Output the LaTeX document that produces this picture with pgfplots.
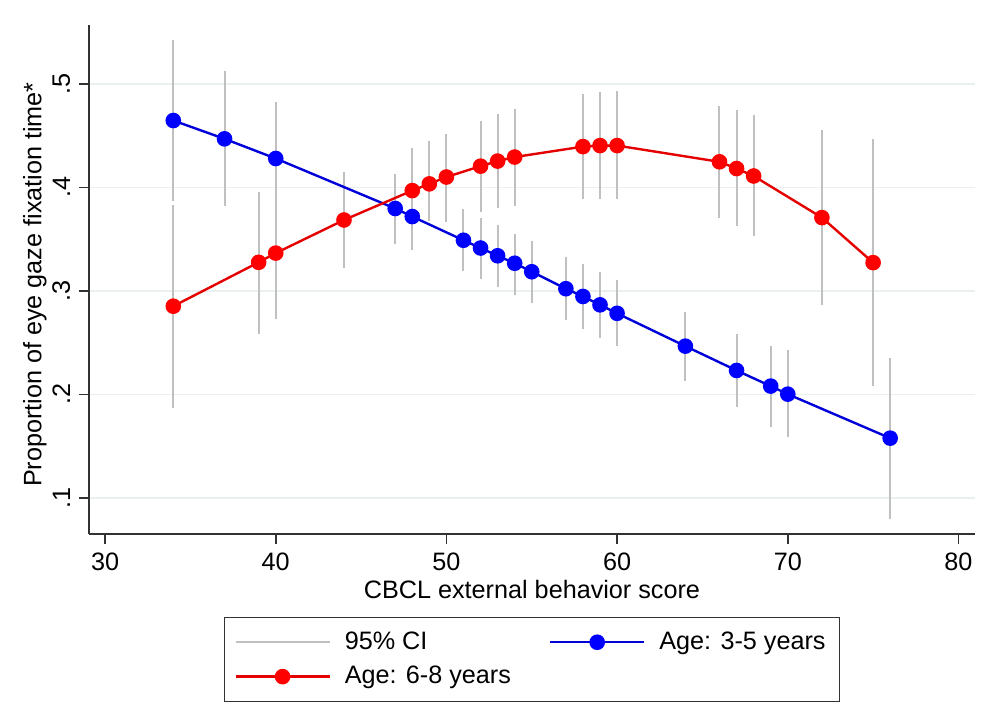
\documentclass[border=0pt]{standalone}
\usepackage{fontspec}
\setmainfont{Liberation Sans}
\usepackage{pgfplots}
\usepackage{pgfplotstable}
\pgfplotsset{compat=1.18}
\usetikzlibrary{calc}
\definecolor{cigray}{RGB}{192,192,192}
\definecolor{gridc}{RGB}{234,240,240}
\definecolor{axc}{RGB}{50,50,50}
\definecolor{sblue}{RGB}{0,0,255}
\definecolor{sred}{RGB}{255,0,0}

\pgfplotstableread{
x m lo hi
34 0.4647 0.3873 0.5425
37 0.4470 0.3817 0.5124
40 0.4280 0.3730 0.4826
47 0.3797 0.3457 0.4134
48 0.3719 0.3398 0.4040
51 0.3490 0.3196 0.3790
52 0.3415 0.3120 0.3709
53 0.3340 0.3040 0.3637
54 0.3268 0.2957 0.3555
55 0.3186 0.2882 0.3480
57 0.3022 0.2718 0.3333
58 0.2947 0.2630 0.3260
59 0.2866 0.2549 0.3186
60 0.2784 0.2467 0.3104
64 0.2467 0.2130 0.2794
67 0.2232 0.1879 0.2581
69 0.2081 0.1690 0.2467
70 0.2003 0.1585 0.2425
76 0.1578 0.0800 0.2353
}\younger

\pgfplotstableread{
x m lo hi
34 0.2853 0.1873 0.3830
39 0.3277 0.2588 0.3954
40 0.3366 0.2730 0.4000
44 0.3686 0.3219 0.4150
48 0.3970 0.3560 0.4379
49 0.4035 0.3676 0.4451
50 0.4101 0.3670 0.4516
52 0.4206 0.3765 0.4647
53 0.4255 0.3797 0.4706
54 0.4294 0.3824 0.4755
58 0.4395 0.3888 0.4902
59 0.4405 0.3888 0.4925
60 0.4405 0.3888 0.4928
66 0.4248 0.3709 0.4787
67 0.4183 0.3627 0.4745
68 0.4111 0.3529 0.4699
72 0.3709 0.2869 0.4552
75 0.3274 0.2085 0.4470
}\older

\begin{document}
\fontsize{12.6}{15}\selectfont
\begin{tikzpicture}
\begin{axis}[
  scale only axis, width=443pt, height=254.5pt,
  xmin=29.06, xmax=80.97, ymin=0.0652, ymax=0.557,
  axis x line*=bottom, axis y line*=left,
  axis line style={axc, line width=0.8pt},
  xtick={30,40,...,80}, ytick={0.1,0.2,0.3,0.4,0.5},
  tick align=outside, major tick length=5pt,
  tick style={axc, line width=0.8pt},
  ymajorgrids, grid style={gridc, line width=0.8pt},
  /pgf/number format/assume math mode=true,
  yticklabel style={rotate=90, anchor=south, /pgf/number format/fixed, /pgf/number format/precision=1, /pgf/number format/skip 0.=true},
  enlargelimits=false, clip=false,
  xlabel={CBCL external behavior score},
  ylabel={Proportion of eye gaze fixation time*},
  xlabel style={at={(axis description cs:0.5,-0.11)}, anchor=center},
  ylabel style={at={(axis description cs:-0.061,0.49)}, anchor=center},
  legend columns=2,
  legend style={at={(axis description cs:0.5,-0.163)}, anchor=north, draw=axc, line width=0.6pt,
    /tikz/every even column/.append style={column sep=17pt},
    /tikz/every odd column/.append style={column sep=5pt},
    row sep=2.5pt,
    inner xsep=5pt, inner ysep=5pt,
    font=\fontsize{12.6}{15}\selectfont},
  legend cell align=left,
  legend image code/.code={\draw[mark repeat=2, mark phase=2] plot coordinates {(0pt,0pt) (23.5pt,0pt) (47pt,0pt)};},
]
\coordinate (sw) at (rel axis cs:0,0);
\coordinate (ne) at (rel axis cs:1,1);
\addlegendimage{cigray, line width=1pt}
\addlegendentry{95\% CI}
\addplot[forget plot, draw=none, mark=none, error bars/.cd, y dir=both, y explicit, error mark=none,
  error bar style={draw=cigray, line width=1pt, solid}]
  table[x=x, y=m, y error plus expr=\thisrow{hi}-\thisrow{m}, y error minus expr=\thisrow{m}-\thisrow{lo}] {\younger};
\addplot[forget plot, draw=none, mark=none, error bars/.cd, y dir=both, y explicit, error mark=none,
  error bar style={draw=cigray, line width=1pt, solid}]
  table[x=x, y=m, y error plus expr=\thisrow{hi}-\thisrow{m}, y error minus expr=\thisrow{m}-\thisrow{lo}] {\older};
\addplot[sblue!85!black, line width=1.2pt, mark=*, mark size=3.3pt, mark options={fill=sblue, draw=sblue}]
  table[x=x, y=m] {\younger};
\addlegendentry{Age: 3-5 years}
\addplot[sred!90!black, line width=1.2pt, mark=*, mark size=3.3pt, mark options={fill=sred, draw=sred}]
  table[x=x, y=m] {\older};
\addlegendentry{Age: 6-8 years}
\end{axis}
\pgfresetboundingbox
\path[use as bounding box] ($(sw)+(-44.5pt,-88.5pt)$) rectangle ($(ne)+(12.5pt,12.5pt)$);
\end{tikzpicture}
\end{document}
